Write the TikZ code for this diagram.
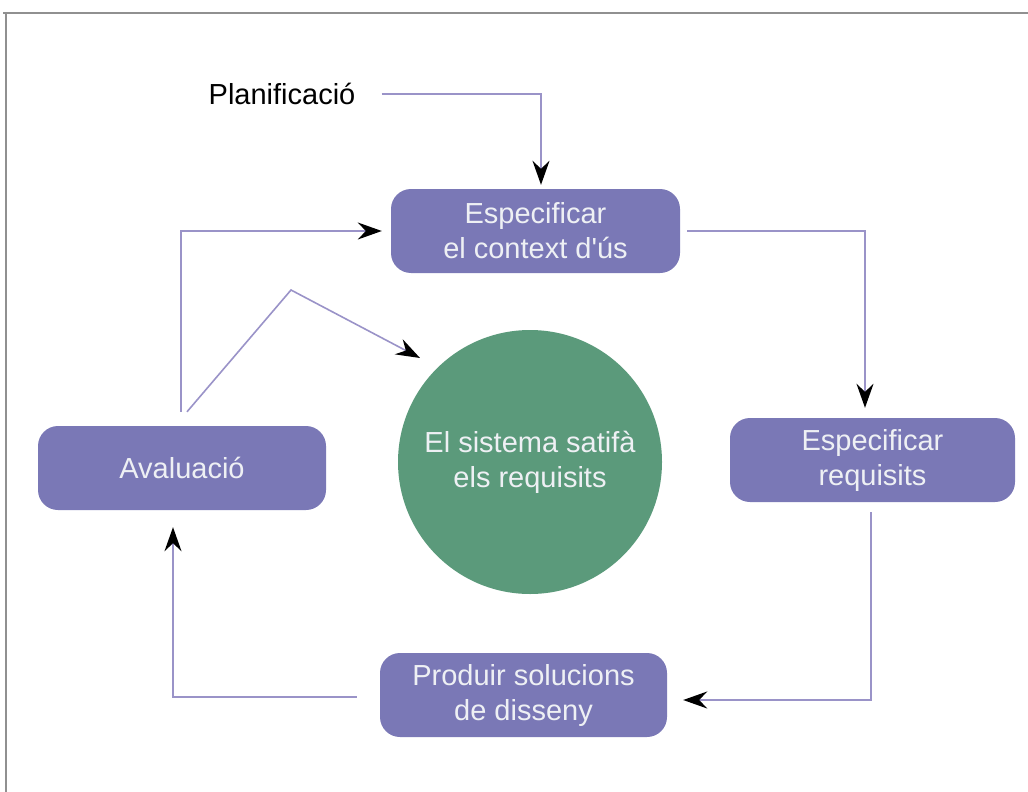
\documentclass[tikz,border=0pt]{standalone}
\usepackage{fontspec}
\setmainfont{Liberation Sans}
\usetikzlibrary{arrows.meta}
\definecolor{boxfill}{HTML}{7A78B6}
\definecolor{boxtext}{HTML}{EEF0F4}
\definecolor{circfill}{HTML}{5B9A7B}
\definecolor{linecol}{HTML}{9A93C8}
\definecolor{framecol}{HTML}{909090}
\tikzset{
  procbox/.style={draw=none, fill=boxfill, rounded corners=20pt, minimum width=#1, minimum height=84pt, inner sep=0pt, align=center, text=boxtext, font=\fontsize{29}{35}\selectfont},
  procbox/.default=288pt,
  goalcirc/.style={circle, fill=circfill, minimum size=264pt, inner sep=0pt, align=center, text=boxtext, font=\fontsize{29}{35}\selectfont},
  conn/.style={draw=linecol, line width=1.6pt, -{Stealth[length=24pt,width=17pt,inset=8pt,color=black]}},
}
\begin{document}
\begin{tikzpicture}[x=1pt,y=-1pt]
\useasboundingbox (0,0) rectangle (1028,792);
% frame
\draw[framecol, line width=2pt] (3,13) -- (1028,13);
\draw[framecol, line width=2pt] (6,13) -- (6,792);
% nodes
\node[inner sep=0pt, font=\fontsize{29}{35}\selectfont] (plan) at (282,94) {Planificació};
\node[procbox=289pt] (b1) at (535.5,231) {Especificar\\el context d\textquotesingle ús};
\node[procbox=285pt] (b2) at (872.5,460) {Especificar\\requisits};
\node[procbox=287pt] (b3) at (523.5,695) {Produir solucions\\de disseny};
\node[procbox=288pt] (b4) at (182,468) {Avaluació};
\node[goalcirc] (circ) at (530,462) {El sistema satifà\\els requisits};
\coordinate (bend) at (291,290);
\coordinate (dtip) at (420,358);
% connectors
\draw[conn] ([xshift=26pt]plan.east) -| ([xshift=5.5pt,yshift=4pt]b1.north);
\draw[conn] ([xshift=7pt]b1.east) -| ([xshift=-7.5pt,yshift=10pt]b2.north);
\draw[conn] ([xshift=-1.5pt,yshift=-10pt]b2.south) |- ([xshift=16pt,yshift=-5pt]b3.east);
\draw[conn] ([xshift=-23pt,yshift=-2pt]b3.west) -| ([xshift=-9pt,yshift=-17pt]b4.south);
\draw[conn] ([xshift=-1pt,yshift=14pt]b4.north) |- ([xshift=-9pt]b1.west);
\draw[conn] ([xshift=5pt,yshift=14pt]b4.north) -- (bend) -- (dtip);
\end{tikzpicture}
\end{document}
